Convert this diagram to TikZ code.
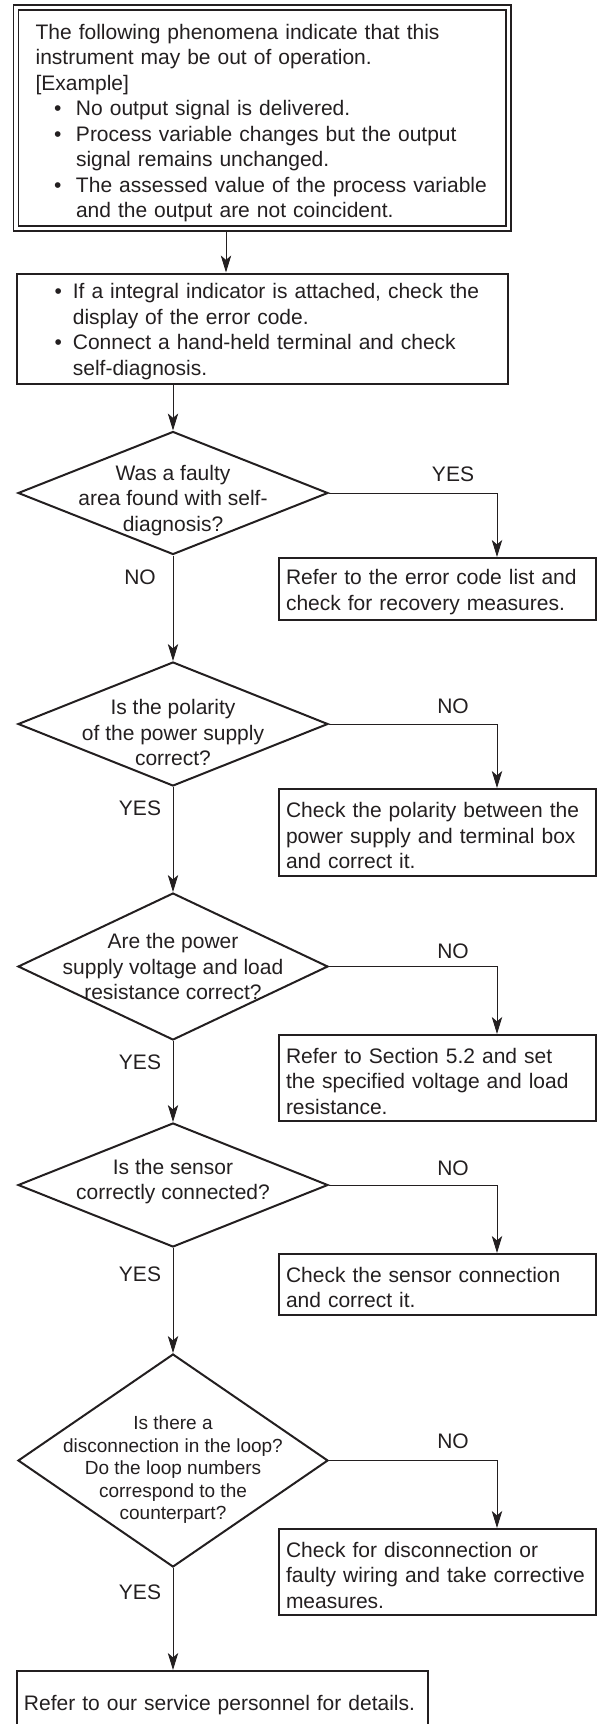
\documentclass[tikz,border=0pt]{standalone}
\usepackage{fontspec}
\setmainfont{Liberation Sans}
\usetikzlibrary{%
  arrows.meta,% Stealth tips
  shapes.geometric,% diamond
}
\definecolor{ink}{HTML}{231F20}
\hyphenpenalty=10000
\exhyphenpenalty=10000
% bulleted line: #1 hanging indent, #2 text
\newcommand{\bulletline}[2]{\noindent\hangindent=#1\hangafter=1%
  \makebox[#1][l]{\hspace*{9.3pt}\textbullet}#2\par}
\newcommand{\capstrut}[1][10.7pt]{\rule{0pt}{#1}}

\tikzset{
  conn/.style={draw=ink, line width=0.5pt, -{Stealth[length=8.5pt,width=5.2pt,inset=2.2pt]}},
  framebox/.style={draw=ink, line width=0.8pt, double, double distance=1.7pt, outer sep=1.65pt,
    anchor=north west, align=left, inner xsep=9.8pt, text width=226.6pt, minimum height=110pt},
  stepbox/.style={draw=ink, line width=1pt, anchor=north west, align=left, inner ysep=2pt},
  fixbox/.style={stepbox, inner xsep=3.5pt, text width=151.5pt, minimum height=#1},
  decision/.style={diamond, draw=ink, line width=1pt, inner sep=0pt, minimum width=155pt, minimum height=#1},
  qtext/.style={align=center, inner sep=0pt},
  answer/.style={inner sep=0pt},
}

\begin{document}
\begin{tikzpicture}[x=0.5pt, y=-0.5pt,
    every node/.style={text=ink, font=\fontsize{10.5pt}{12.75pt}\selectfont}]
  \clip[use as bounding box] (0,0) rectangle (597,1724);

  \coordinate (feed) at (226,0);
  \coordinate (drop) at (497,0);

  \node[framebox] (sympt) at (12.7,4.2) {\capstrut[12.5pt]The following phenomena indicate that this\\
    instrument may be out of operation.\\{[Example]}\par
    \bulletline{20.2pt}{No output signal is delivered.}
    \bulletline{20.2pt}{Process variable changes but the output\newline signal remains unchanged.}
    \bulletline{20.2pt}{The assessed value of the process variable\newline and the output are not coincident.}};

  \node[stepbox, inner xsep=9.8pt, text width=225.9pt, minimum height=54.75pt] (check) at (15.5,272.5) {%
    \bulletline{18.4pt}{\capstrut If a integral indicator is attached, check the\newline display of the error code.}
    \bulletline{18.4pt}{Connect a hand-held terminal and check\newline self-diagnosis.}};

  \node[decision=61.5pt] (q1) at (173,493) {};
  \node[qtext] (q1t) at (173,500.5) {Was a faulty\\area found with self-\\diagnosis?};
  \node[fixbox=31pt] (r1) at (278,557) {\capstrut Refer to the error code list and\\check for recovery measures.};
  \node[answer] (q1y) at (453,474) {YES};
  \node[answer] (q1n) at (140,577) {NO};

  \node[decision=62pt] (q2) at (173,724) {};
  \node[qtext] (q2t) at (173,732.5) {Is the polarity\\of the power supply\\correct?};
  \node[fixbox=43.5pt] (r2) at (278,788) {\capstrut Check the polarity between the\\power supply and terminal box\\and correct it.};
  \node[answer] (q2n) at (453,706) {NO};
  \node[answer] (q2y) at (140,808) {YES};

  \node[decision=73.5pt] (q3) at (173,966.5) {};
  \node[qtext] (q3t) at (173,966.5) {Are the power\\supply voltage and load\\resistance correct?};
  \node[fixbox=43pt] (r3) at (278,1034) {\capstrut Refer to Section 5.2 and set\\the specified voltage and load\\resistance.};
  \node[answer] (q3n) at (453,951) {NO};
  \node[answer] (q3y) at (140,1062) {YES};

  \node[decision=62pt] (q4) at (173,1185) {};
  \node[qtext] (q4t) at (173,1181.5) {Is the sensor\\correctly connected?};
  \node[fixbox=30.5pt] (r4) at (278,1253) {\capstrut Check the sensor connection\\and correct it.};
  \node[answer] (q4n) at (453,1168) {NO};
  \node[answer] (q4y) at (140,1274) {YES};

  \node[decision=106.5pt] (q5) at (173,1460.5) {};
  \node[qtext, font=\fontsize{9.5pt}{11.25pt}\selectfont] (q5t) at (173,1470)
    {Is there a\\disconnection in the loop?\\Do the loop numbers\\correspond to the\\counterpart?};
  \node[fixbox=43pt] (r5) at (278,1528) {\capstrut Check for disconnection or\\faulty wiring and take corrective\\measures.};
  \node[answer] (q5n) at (453,1441) {NO};
  \node[answer] (q5y) at (140,1592) {YES};

  \node[stepbox, inner xsep=3.5pt, text width=198.5pt, minimum height=31pt] (fin) at (16,1670)
    {\capstrut Refer to our service personnel for details.};

  % connectors
  \draw[conn] (sympt.south -| feed) -- (check.north -| feed);
  \draw[conn] (check.south -| q1.north) -- (q1.north);
  \foreach \a/\b in {q1/q2, q2/q3, q3/q4, q4/q5}
    \draw[conn] (\a.south) -- (\b.north);
  \foreach \q/\r in {q1/r1, q2/r2, q3/r3, q4/r4, q5/r5}
    \draw[conn] (\q.east) -| (\r.north -| drop);
  \draw[conn] (q5.south) -- (fin.north -| q5.south);
\end{tikzpicture}
\end{document}
